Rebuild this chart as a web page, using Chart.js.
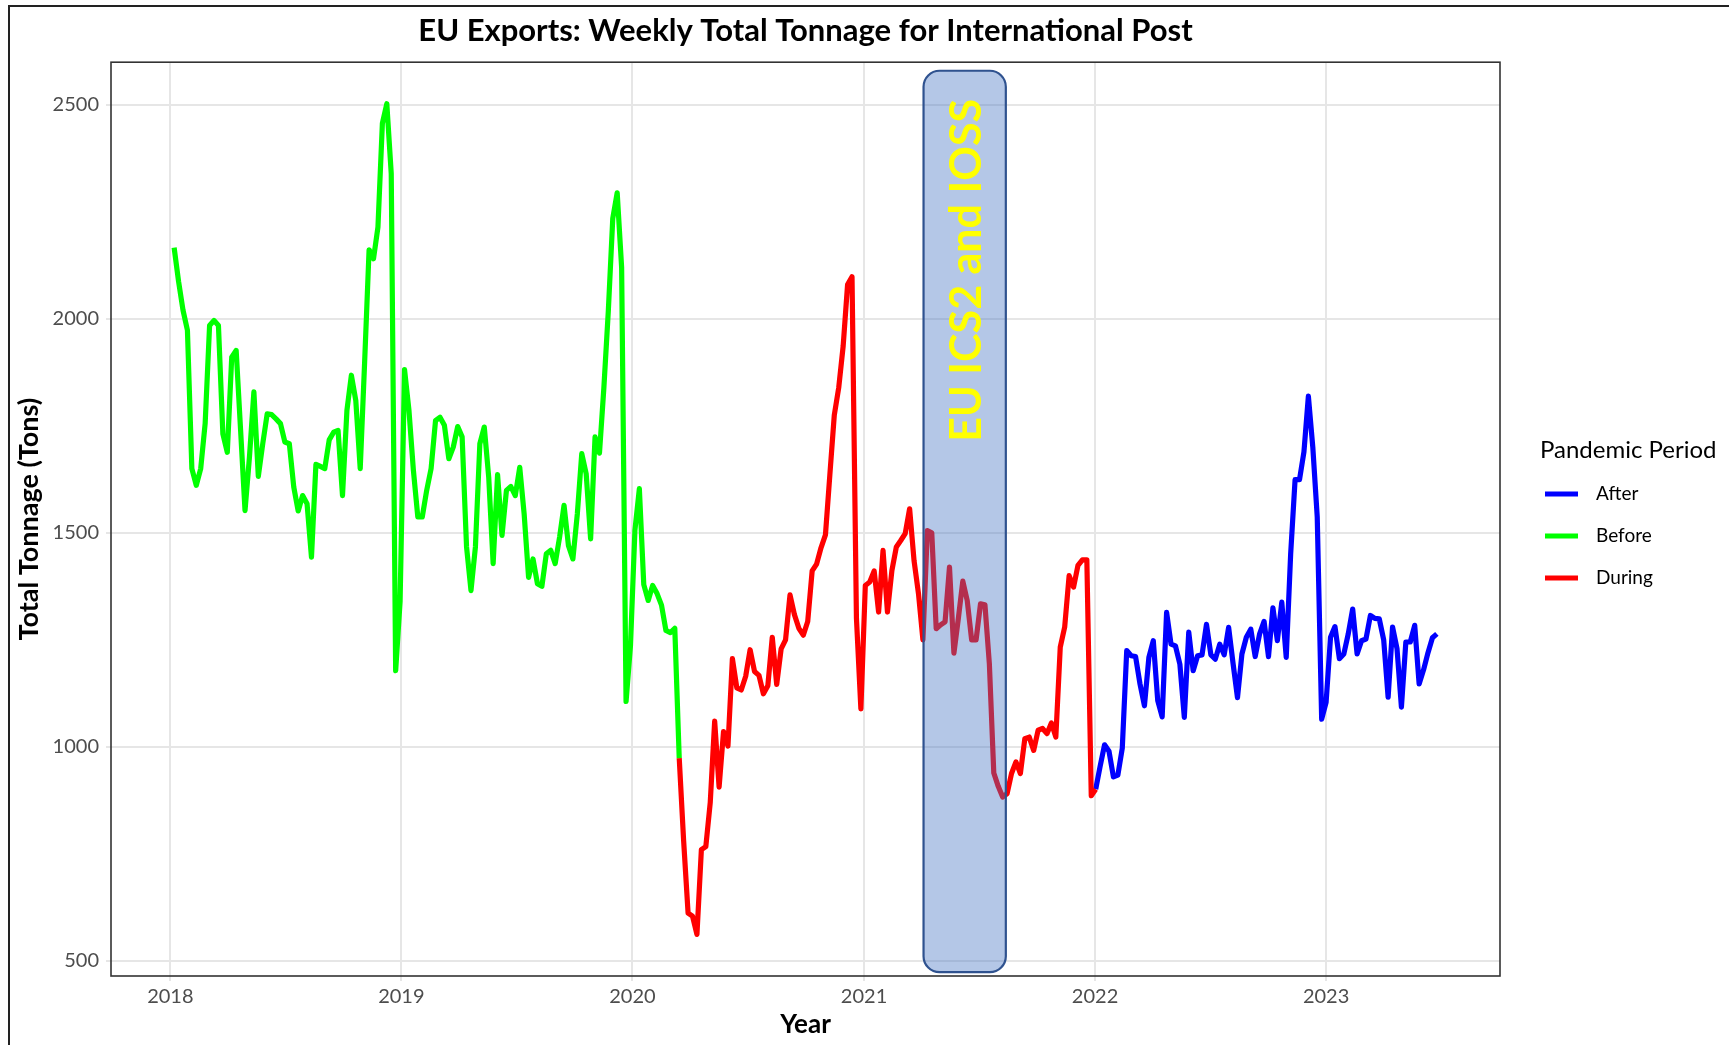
<!DOCTYPE html>
<html>
<head>
<meta charset="utf-8">
<script src="https://cdn.jsdelivr.net/npm/chart.js@4.4.1/dist/chart.umd.min.js"></script>
<style>
  html, body { margin: 0; padding: 0; background: #ffffff; }
  canvas { display: block; }
</style>
</head>
<body>
<canvas id="c" width="1729" height="1045"></canvas>
<script>
// ---------------- data ----------------
const chartTitle = "EU Exports: Weekly Total Tonnage for International Post";
const xAxisTitle = "Year";
const yAxisTitle = "Total Tonnage (Tons)";
const legendTitle = "Pandemic Period";

const periodLabels = ["Before", "During", "After"];
const periodColors = { Before: "#00FF00", During: "#FF0000", After: "#0000FF" };

// first week of each period (weekly series)
const beforeStart = "2018-01-07";
const duringStart = "2020-03-15";
const afterStart  = "2022-01-02";

const beforeTons = [
  2166, 2087, 2020, 1973, 1650, 1611, 1650, 1755, 1984, 1996,
  1984, 1731, 1688, 1910, 1926, 1740, 1552, 1677, 1829, 1632,
  1708, 1778, 1776, 1766, 1755, 1712, 1708, 1607, 1551, 1587,
  1568, 1443, 1660, 1655, 1650, 1717, 1735, 1739, 1587, 1786,
  1868, 1809, 1650, 1900, 2161, 2140, 2214, 2456, 2502, 2339,
  1178, 1340, 1881, 1786, 1646, 1537, 1537, 1599, 1650, 1762,
  1770, 1751, 1673, 1700, 1748, 1724, 1467, 1365, 1467, 1708,
  1747, 1630, 1428, 1636, 1494, 1599, 1608, 1587, 1653, 1544,
  1396, 1439, 1381, 1375, 1451, 1459, 1428, 1490, 1564, 1470,
  1439, 1544, 1685, 1638, 1486, 1724, 1686, 1840, 2019, 2234,
  2294, 2120, 1106, 1237, 1506, 1603, 1379, 1342, 1377, 1358,
  1331, 1272, 1267, 1277
];

const duringTons = [
   974,  780,  612,  605,  562,  760,  767,  870, 1060,  906,
  1036, 1002, 1206, 1138, 1133, 1165, 1227, 1176, 1167, 1124,
  1143, 1256, 1146, 1229, 1250, 1355, 1309, 1277, 1261, 1293,
  1411, 1427, 1465, 1495, 1636, 1775, 1839, 1936, 2080, 2098,
  1300, 1089, 1377, 1385, 1411, 1315, 1459, 1315, 1412, 1467,
  1482, 1498, 1556, 1435, 1358, 1250, 1505, 1500, 1276, 1285,
  1292, 1420, 1219, 1300, 1387, 1342, 1250, 1250, 1334, 1332,
  1194,  939,  908,  883,  891,  938,  965,  938, 1019, 1023,
   992, 1039, 1043, 1031, 1056, 1023, 1233, 1280, 1400, 1373,
  1424, 1437, 1437,  886
];

const afterTons = [
   901,  955, 1005,  990,  930,  934,  997, 1225, 1213, 1211,
  1147, 1096, 1209, 1248, 1108, 1070, 1314, 1240, 1236, 1193,
  1069, 1268, 1178, 1213, 1215, 1286, 1215, 1205, 1240, 1215,
  1279, 1195, 1115, 1217, 1256, 1275, 1211, 1264, 1293, 1211,
  1325, 1248, 1338, 1209, 1450, 1624, 1624, 1689, 1819, 1700,
  1537, 1065, 1104, 1256, 1281, 1206, 1217, 1264, 1322, 1217,
  1248, 1252, 1307, 1300, 1299, 1250, 1116, 1280, 1230, 1093,
  1245, 1245, 1284, 1147, 1180, 1220, 1255, 1264
];

const xTickYears  = [2018, 2019, 2020, 2021, 2022, 2023];
const yTickValues = [500, 1000, 1500, 2000, 2500];

// highlighted regulation window
const boxLabel = "EU ICS2 and IOSS";
const boxStart = "2021-04-05";
const boxEnd   = "2021-08-13";
const boxLow   = 474;
const boxHigh  = 2579;
const boxLabelCenter = 2113;

// ---------------- helpers ----------------
const DAY = 86400000;
const toDay = s => Date.UTC(+s.slice(0, 4), +s.slice(5, 7) - 1, +s.slice(8, 10)) / DAY;
function weekly(start, vals) {
  const d0 = toDay(start);
  return vals.map((v, i) => ({ x: d0 + 7 * i, y: v }));
}
const before = weekly(beforeStart, beforeTons);
const during = weekly(duringStart, duringTons);
const after  = weekly(afterStart, afterTons);
const allPts = before.concat(during, after);

const xs = allPts.map(p => p.x), ys = allPts.map(p => p.y);
const xLo = Math.min(...xs), xHi = Math.max(...xs);
const yLo = Math.min(...ys), yHi = Math.max(...ys);
const xPad = 0.05 * (xHi - xLo), yPad = 0.05 * (yHi - yLo);

const FONT = "Lato, 'Open Sans', 'DejaVu Sans', sans-serif";
Chart.defaults.font.family = FONT;

// segments are coloured by their starting point (ggplot style)
const seriesByLabel = {
  Before: before.concat(during.slice(0, 1)),
  During: during.concat(after.slice(0, 1)),
  After:  after
};

const datasets = periodLabels.map(lab => ({
  label: lab,
  data: seriesByLabel[lab],
  borderColor: periodColors[lab],
  backgroundColor: periodColors[lab],
  borderWidth: 5.2,
  pointRadius: 0,
  pointHoverRadius: 0,
  tension: 0,
  fill: false,
  borderJoinStyle: 'round',
  borderCapStyle: 'butt'
}));

// ---------------- plugins ----------------
const panelPlugin = {
  id: 'panelAndBox',
  afterDatasetsDraw(chart) {
    const { ctx, chartArea: a, scales } = chart;
    // panel border
    ctx.save();
    ctx.strokeStyle = '#333333';
    ctx.lineWidth = 1.6;
    ctx.strokeRect(a.left, a.top, a.right - a.left, a.bottom - a.top);
    ctx.restore();

    // highlight box
    const x0 = scales.x.getPixelForValue(toDay(boxStart));
    const x1 = scales.x.getPixelForValue(toDay(boxEnd));
    const y0 = scales.y.getPixelForValue(boxHigh);
    const y1 = scales.y.getPixelForValue(boxLow);
    ctx.save();
    ctx.beginPath();
    ctx.roundRect(x0, y0, x1 - x0, y1 - y0, 16);
    ctx.fillStyle = 'rgba(68,114,196,0.40)';
    ctx.fill();
    ctx.lineWidth = 2.2;
    ctx.strokeStyle = '#2F528F';
    ctx.stroke();
    // label
    const cx = (x0 + x1) / 2;
    const cy = scales.y.getPixelForValue(boxLabelCenter);
    ctx.translate(cx, cy);
    ctx.rotate(-Math.PI / 2);
    ctx.fillStyle = '#FFFF00';
    ctx.font = "bold 43px " + FONT;
    ctx.textAlign = 'center';
    ctx.textBaseline = 'middle';
    ctx.fillText(boxLabel, 0, 2);
    ctx.restore();
  },
  afterDraw(chart) {
    const { ctx } = chart;
    ctx.save();
    // outer frame (top and left edges)
    ctx.fillStyle = '#222222';
    ctx.fillRect(8, 5, 1729 - 8, 2);
    ctx.fillRect(8, 5, 2, 1045 - 5);

    // legend
    const items = chart.data.datasets.map(d => ({ label: d.label, color: d.borderColor }))
      .sort((p, q) => p.label.localeCompare(q.label));
    ctx.fillStyle = '#000000';
    ctx.textBaseline = 'middle';
    ctx.textAlign = 'left';
    ctx.font = "24px " + FONT;
    ctx.fillText(legendTitle, 1540, 450);
    ctx.font = "19px " + FONT;
    items.forEach((it, i) => {
      const y = 494 + i * 42;
      ctx.strokeStyle = it.color;
      ctx.lineWidth = 5;
      ctx.beginPath();
      ctx.moveTo(1545, y);
      ctx.lineTo(1578, y);
      ctx.stroke();
      ctx.fillStyle = '#000000';
      ctx.fillText(it.label, 1596, y);
    });
    ctx.restore();
  }
};

// ---------------- chart ----------------
new Chart(document.getElementById('c'), {
  type: 'line',
  data: { datasets },
  options: {
    responsive: false,
    animation: false,
    events: [],
    layout: { padding: { left: 0, right: 229, top: 0, bottom: 0 } },
    plugins: {
      legend: { display: false },
      tooltip: { enabled: false },
      title: {
        display: true,
        fullSize: false,
        text: chartTitle,
        color: '#000000',
        font: { family: FONT, size: 31, weight: 'bold', lineHeight: 1.2 },
        padding: { top: 12, bottom: 13 }
      }
    },
    scales: {
      x: {
        type: 'linear',
        min: xLo - xPad,
        max: xHi + xPad,
        afterBuildTicks: s => { s.ticks = xTickYears.map(y => ({ value: Date.UTC(y, 0, 1) / DAY })); },
        afterFit: s => { s.height = 69; },
        ticks: {
          callback: v => String(new Date(v * DAY).getUTCFullYear()),
          color: '#4D4D4D',
          font: { size: 20 },
          padding: 4,
          maxRotation: 0,
          autoSkip: false
        },
        grid: { color: '#E6E6E6', lineWidth: 2, drawTicks: true, tickLength: 5, tickColor: '#E6E6E6' },
        border: { display: false },
        title: {
          display: true, text: xAxisTitle, color: '#000000',
          font: { size: 26, weight: 'bold', lineHeight: 1.2 },
          padding: { top: 0, bottom: 5 }
        }
      },
      y: {
        type: 'linear',
        min: yLo - yPad,
        max: yHi + yPad,
        afterBuildTicks: s => { s.ticks = yTickValues.map(v => ({ value: v })); },
        afterFit: s => { s.width = 111; },
        ticks: {
          callback: v => String(v),
          color: '#4D4D4D',
          font: { size: 20 },
          padding: 7,
          autoSkip: false
        },
        grid: { color: '#E6E6E6', lineWidth: 2, drawTicks: true, tickLength: 5, tickColor: '#E6E6E6' },
        border: { display: false },
        title: {
          display: true, text: yAxisTitle, color: '#000000',
          font: { size: 27, weight: 'bold', lineHeight: 1.2 },
          padding: { top: 13, bottom: 0 }
        }
      }
    }
  },
  plugins: [panelPlugin]
});
</script>
</body>
</html>
